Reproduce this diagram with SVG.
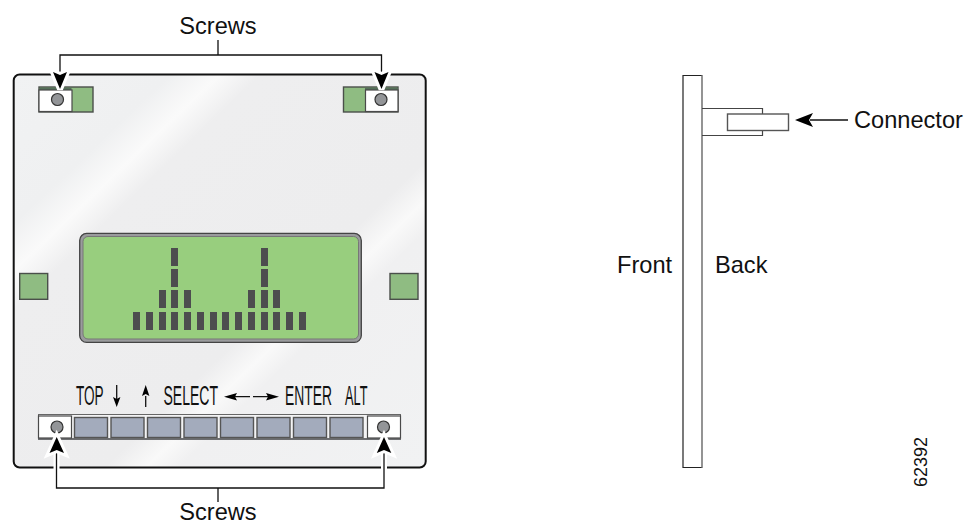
<svg xmlns="http://www.w3.org/2000/svg" width="966" height="525" viewBox="0 0 966 525">
<style>
text{font-family:"Liberation Sans",Arial,sans-serif;fill:#111}
.lab{font-size:23.6px}
.key{font-size:28px}
.ln{fill:none;stroke:#111;stroke-width:1.3}
.wl{fill:none;stroke:#fff;stroke-width:6}
.halo{fill:#000;stroke:#fff;stroke-width:6;paint-order:stroke;stroke-linejoin:miter}
.halot{stroke-miterlimit:2}
.head{fill:#000}
.bar{fill:#4d4d4f}
.pad{fill:#8fbc82;stroke:#4a4f4a;stroke-width:1.4}
.wht{fill:#fff;stroke:#4a4a4a;stroke-width:1.2}
.scr{fill:#939598;stroke:#333;stroke-width:1.2}
.btn{fill:#a3abbc;stroke:#555;stroke-width:1.4}
</style>
<defs>
<linearGradient id="sheen" x1="0" y1="0" x2="1" y2="1">
<stop offset="0" stop-color="#f1f2f3"/><stop offset=".19" stop-color="#eff0f1"/><stop offset=".25" stop-color="#fafafa"/><stop offset=".3" stop-color="#eeeeef"/><stop offset=".61" stop-color="#ededee"/><stop offset=".66" stop-color="#f9f9f9"/><stop offset=".7" stop-color="#f0f0f1"/><stop offset="1" stop-color="#f1f2f3"/>
</linearGradient>
</defs>
<g id="panel">
<rect x="13.700" y="74.500" width="412" height="393" rx="6" fill="url(#sheen)" stroke="#111" stroke-width="2"/>
</g>
<g id="pad-top-left">
<rect class="pad" x="39" y="87" width="54" height="25"/>
<rect x="39.500" y="87.700" width="32" height="2.800" fill="#55705a"/>
<rect class="wht" x="39" y="90" width="33" height="21.500"/>
<circle class="scr" cx="57.500" cy="99.500" r="6"/>
</g>
<g id="pad-top-right">
<rect class="pad" x="343.500" y="87" width="54.500" height="25"/>
<rect x="365" y="87.700" width="33" height="2.800" fill="#55705a"/>
<rect class="wht" x="365.500" y="90" width="32.500" height="21.500"/>
<circle class="scr" cx="381" cy="99.500" r="6"/>
</g>
<g id="pad-left"><rect class="pad" x="19.700" y="273.500" width="28" height="25.800"/></g>
<g id="pad-right"><rect class="pad" x="390" y="273.500" width="28" height="25.800"/></g>
<g id="display">
<rect x="79.700" y="233.400" width="281.600" height="109" rx="7" fill="#9a9b9d" stroke="#444" stroke-width="1.300"/>
<rect x="83" y="236.500" width="275.500" height="102.500" rx="5" fill="#98ce7e" stroke="#777" stroke-width="1"/>
<g class="bar">
<rect x="133" y="312" width="7" height="18"/><rect x="146" y="312" width="7" height="18"/><rect x="159" y="312" width="7" height="18"/><rect x="171" y="312" width="7" height="18"/><rect x="184" y="312" width="7" height="18"/><rect x="197" y="312" width="7" height="18"/><rect x="210" y="312" width="7" height="18"/><rect x="222" y="312" width="7" height="18"/><rect x="235" y="312" width="7" height="18"/><rect x="248" y="312" width="7" height="18"/><rect x="261" y="312" width="7" height="18"/><rect x="273" y="312" width="7" height="18"/><rect x="286" y="312" width="7" height="18"/><rect x="299" y="312" width="7" height="18"/>
<rect x="159" y="290" width="7" height="18"/><rect x="171" y="290" width="7" height="18"/><rect x="184" y="290" width="7" height="18"/><rect x="248" y="290" width="7" height="18"/><rect x="261" y="290" width="7" height="18"/><rect x="273" y="290" width="7" height="18"/>
<rect x="171" y="269" width="7" height="18"/><rect x="261" y="269" width="7" height="18"/>
<rect x="171" y="248" width="7" height="18"/><rect x="261" y="248" width="7" height="18"/>
</g>
</g>
<g id="keypad">
<rect x="38.500" y="414.500" width="362" height="24.500" fill="#f3f3f4" stroke="#666" stroke-width="1"/>
<rect x="38" y="438" width="363" height="2" fill="#6d6e71"/>
<rect class="btn" x="74.500" y="417.500" width="33" height="20"/><rect class="btn" x="111" y="417.500" width="33" height="20"/><rect class="btn" x="147.500" y="417.500" width="33" height="20"/><rect class="btn" x="184" y="417.500" width="33" height="20"/><rect class="btn" x="220.500" y="417.500" width="33" height="20"/><rect class="btn" x="257" y="417.500" width="33" height="20"/><rect class="btn" x="293.500" y="417.500" width="33" height="20"/><rect class="btn" x="330" y="417.500" width="33" height="20"/>
<rect class="wht" x="38.500" y="416" width="33" height="22"/>
<circle class="scr" cx="57" cy="427" r="6"/>
<rect class="wht" x="367.500" y="416" width="33" height="22"/>
<circle class="scr" cx="383.500" cy="427" r="6"/>
</g>
<g id="key-labels">
<text class="key" transform="translate(76 405) scale(.485 1)">TOP</text>
<text class="key" transform="translate(163.500 405) scale(.5 1)">SELECT</text>
<text class="key" transform="translate(285 405) scale(.495 1)">ENTER</text>
<text class="key" transform="translate(345 405) scale(.455 1)">ALT</text>
</g>
<g id="board">
<rect x="683" y="75" width="19" height="393" fill="#fff" stroke="none"/>
<path d="M702 75.500H683V467.500H702" fill="none" stroke="#222" stroke-width="1.200"/>
<path d="M702 75V468" fill="none" stroke="#666" stroke-width="1.400"/>
</g>
<g id="connector">
<path d="M702 108.500H762.500V114M762.500 130.500V135.500H702" fill="none" stroke="#444" stroke-width="1.200"/>
<rect x="727.500" y="114" width="61" height="16.500" fill="#fff" stroke="#555" stroke-width="1.400"/>
</g>
<g id="connectors">
<path class="wl" d="M56.500 452V472M384 452V472"/>
<path class="ln" d="M218 40V55M60 88V55H381.500V88"/>
<path class="ln" d="M218 502V488M56.500 450V488H384V450"/>
<path class="ln" d="M810 120H848"/>
<path class="ln" d="M116.700 385V400M145.700 396V407M235 396.700H250M253 396.700H268"/>
<path class="halo halot" d="M60 89L53 72L60 75L67 72Z"/>
<path class="halo halot" d="M381.500 89L374.500 72L381.500 75L388.500 72Z"/>
<path class="halo" d="M56.700 437L49.500 453L56.700 450L64 453Z"/>
<path class="halo" d="M384 437L376.800 453L384 450L391.300 453Z"/>
<path class="head" d="M795 120L813 113L809 120L813 127Z"/>
<path class="head" d="M116.700 407L113 397L116.700 399L120.400 397Z"/>
<path class="head" d="M145.700 385L142 396L145.700 394L149.400 396Z"/>
<path class="head" d="M224 396.700L237 393L235 396.700L237 400.400Z"/>
<path class="head" d="M279 396.700L266 393L268 396.700L266 400.400Z"/>
</g>
<g id="labels">
<text class="lab" x="218" y="34" text-anchor="middle">Screws</text>
<text class="lab" x="218" y="520" text-anchor="middle">Screws</text>
<text class="lab" x="854" y="128">Connector</text>
<text class="lab" x="617" y="273">Front</text>
<text class="lab" x="715" y="273">Back</text>
<text x="927" y="487" font-size="18" transform="rotate(-90 927 487)">62392</text>
</g>
</svg>
